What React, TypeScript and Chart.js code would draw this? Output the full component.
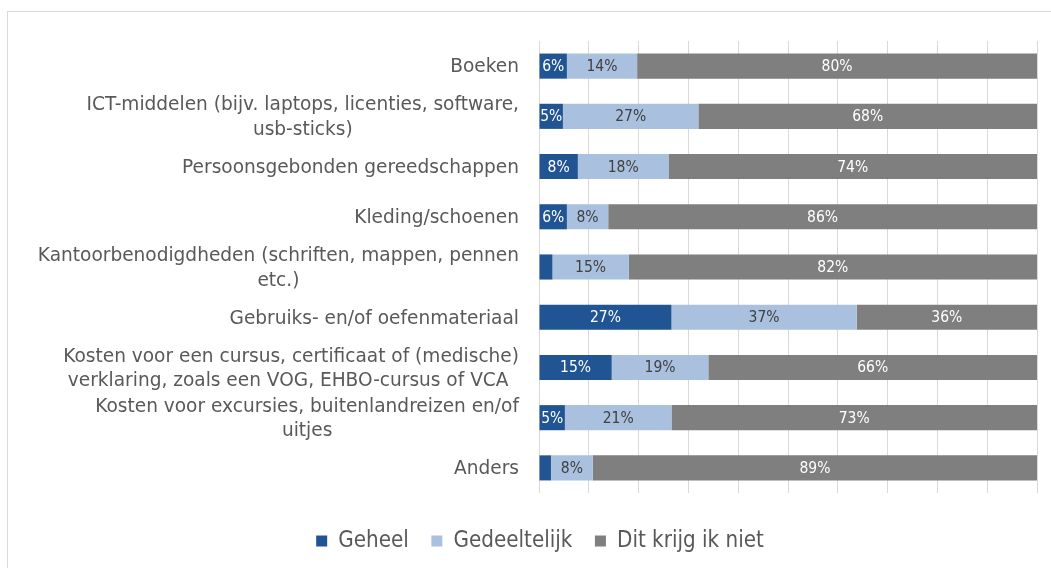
import React, { useEffect, useRef } from "react";
import { Chart, registerables } from "chart.js";

Chart.register(...registerables);

// ---- data ----
const categories: string[][] = [
  ["Boeken"],
  ["ICT-middelen (bijv. laptops, licenties, software,", "usb-sticks)"],
  ["Persoonsgebonden gereedschappen"],
  ["Kleding/schoenen"],
  ["Kantoorbenodigdheden (schriften, mappen, pennen", "etc.)"],
  ["Gebruiks- en/of oefenmateriaal"],
  ["Kosten voor een cursus, certificaat of (medische)", "verklaring, zoals een VOG, EHBO-cursus of VCA "],
  ["Kosten voor excursies, buitenlandreizen en/of", "uitjes"],
  ["Anders"],
];
const seriesNames = ["Geheel", "Gedeeltelijk", "Dit krijg ik niet"];
const geheel = [5.6, 4.8, 7.8, 5.6, 2.7, 26.6, 14.6, 5.2, 2.4];
const gedeeltelijk = [14.1, 27.2, 18.2, 8.3, 15.3, 37.2, 19.4, 21.4, 8.4];
const ditKrijgIkNiet = [80.3, 68.0, 74.0, 86.1, 82.0, 36.2, 66.0, 73.4, 89.2];
const xMin = 0;
const xMax = 100;
const xStep = 10;

// ---- style ----
const seriesColors = ["#215492", "#A9C1DF", "#7F7F7F"];
const labelColors = ["#FFFFFF", "#404040", "#FFFFFF"];
const textGrey = "#595959";
const gridGrey = "#D9D9D9";
const catFamily = '"DejaVu Sans", sans-serif';
const valFamily = '"Liberation Sans Narrow", "DejaVu Sans Condensed", Lato, sans-serif';
const legFamily = '"Liberation Sans Narrow", "DejaVu Sans Condensed", Lato, sans-serif';

function fitSize(text: string, family: string, target: number): number {
  const c = document.createElement("canvas").getContext("2d")!;
  c.font = `100px ${family}`;
  const w = c.measureText(text).width;
  return (100 * target) / w;
}

export default function App() {
  const ref = useRef<HTMLCanvasElement>(null);

  useEffect(() => {
    const canvas = ref.current!;
    const catSize = fitSize("Persoonsgebonden gereedschappen", catFamily, 337);
    const valSize = fitSize("27%", valFamily, 31);
    const legSize = fitSize("Gedeeltelijk", legFamily, 119);

    const legPad = 22.5;
    const plotLeft = 539;
    const plotRight = 1037;
    const plotTop = 41;
    const plotBottom = 493;
    const legendCenterY = 541;
    const legendTop = legendCenterY - legPad - legSize / 2;
    const xAxisHeight = legendTop - plotBottom;
    const legendHeight = legSize + legPad + 10;
    const bottomPad = 568 - legendTop - legendHeight;
    const padLeft = 43;
    const padRight = 1051 - plotRight;

    const categoryLabelPlugin = {
      id: "categoryLabels",
      afterDraw(chart: any) {
        const ctx = chart.ctx as CanvasRenderingContext2D;
        const yScale = chart.scales.y;
        const right = chart.chartArea.left - 20;
        const lh = catSize * 1.32;
        ctx.save();
        ctx.font = `${catSize}px ${catFamily}`;
        ctx.fillStyle = textGrey;
        ctx.textAlign = "center";
        ctx.textBaseline = "middle";
        categories.forEach((lines, i) => {
          const yc = yScale.getPixelForValue(i);
          const bw = Math.max(...lines.map((l) => ctx.measureText(l).width));
          const cx = right - bw / 2;
          lines.forEach((line, j) => {
            const y = yc + (j - (lines.length - 1) / 2) * lh + 1.5;
            ctx.fillText(line, cx, y);
          });
        });
        ctx.restore();
      },
    };

    const valueLabelPlugin = {
      id: "valueLabels",
      afterDatasetsDraw(chart: any) {
        const ctx = chart.ctx as CanvasRenderingContext2D;
        ctx.save();
        ctx.font = `${valSize}px ${valFamily}`;
        ctx.textAlign = "center";
        ctx.textBaseline = "middle";
        chart.data.datasets.forEach((ds: any, di: number) => {
          const meta = chart.getDatasetMeta(di);
          meta.data.forEach((bar: any, i: number) => {
            const v = ds.data[i] as number;
            if (v < 4) return;
            ctx.fillStyle = labelColors[di];
            ctx.fillText(`${Math.round(v)}%`, (bar.x + bar.base) / 2, bar.y + 1);
          });
        });
        ctx.restore();
      },
    };

    const chart = new Chart(canvas, {
      type: "bar",
      data: {
        labels: categories,
        datasets: [geheel, gedeeltelijk, ditKrijgIkNiet].map((d, i) => ({
          label: seriesNames[i],
          data: d,
          backgroundColor: seriesColors[i],
          borderWidth: 0,
          barPercentage: 0.5,
          categoryPercentage: 1,
        })),
      },
      options: {
        indexAxis: "y",
        responsive: false,
        animation: false,
        devicePixelRatio: 1,
        layout: {
          padding: { left: padLeft, right: padRight, top: plotTop, bottom: bottomPad },
        },
        scales: {
          x: {
            stacked: true,
            min: xMin,
            max: xMax,
            ticks: { display: false, stepSize: xStep },
            grid: { color: gridGrey, lineWidth: 1, drawTicks: false },
            border: { display: false },
            afterFit: (s: any) => {
              s.height = xAxisHeight;
            },
          },
          y: {
            stacked: true,
            ticks: { display: false },
            grid: { display: false },
            border: { display: false },
            afterFit: (s: any) => {
              s.width = plotLeft - padLeft;
            },
          },
        },
        plugins: {
          legend: {
            position: "bottom",
            labels: {
              boxWidth: 11,
              boxHeight: 11,
              padding: legPad,
              color: textGrey,
              font: { family: legFamily, size: legSize },
            },
          },
          tooltip: { enabled: false },
        },
      },
      plugins: [categoryLabelPlugin, valueLabelPlugin],
    } as any);

    return () => chart.destroy();
  }, []);

  return (
    <div
      style={{
        position: "fixed",
        left: 0,
        top: 0,
        width: 1051,
        height: 568,
        overflow: "hidden",
        background: "#fff",
      }}
    >
      <div
        style={{
          position: "absolute",
          left: 7,
          top: 11,
          width: 1200,
          height: 700,
          border: "1px solid #D9D9D9",
        }}
      />
      <canvas
        ref={ref}
        width={1051}
        height={568}
        style={{ position: "absolute", left: 0, top: 0, width: 1051, height: 568 }}
      />
    </div>
  );
}
